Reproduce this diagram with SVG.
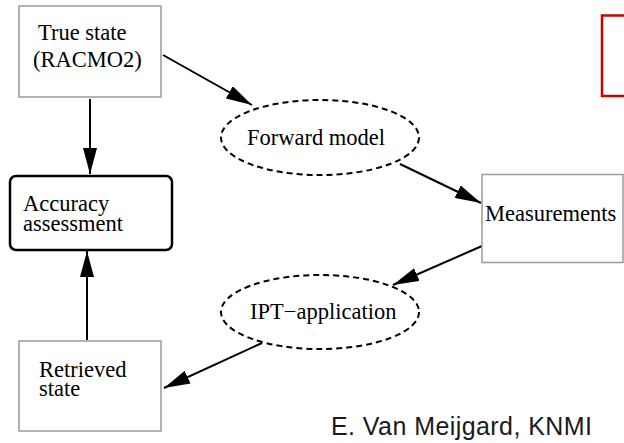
<svg xmlns="http://www.w3.org/2000/svg" width="624" height="443" viewBox="0 0 624 443">
  <style>
    .box { fill: #ffffff; stroke: #9a9a9a; stroke-width: 1.5; }
    .strong { fill: #ffffff; stroke: #000000; stroke-width: 2.5; }
    .proc { fill: #ffffff; stroke: #000000; stroke-width: 2; stroke-dasharray: 6 4; }
    .label { font-family: "Liberation Serif", "Times New Roman", serif; font-size: 22.5px; fill: #000000; }
    .edge { fill: none; stroke: #000000; stroke-width: 2; marker-end: url(#head); }
    .credit { font-family: "Liberation Sans", Arial, sans-serif; font-size: 25px; fill: #1a1a1a; }
  </style>
  <defs>
    <marker id="head" markerUnits="userSpaceOnUse" markerWidth="26" markerHeight="14" refX="26" refY="7" orient="auto">
      <path d="M0,0 L26,7 L0,14 z" fill="#000000"/>
    </marker>
  </defs>

  <rect x="0" y="0" width="624" height="443" fill="#ffffff"/>

  <!-- red frame at the top right -->
  <rect x="602" y="15.5" width="30" height="80.5" fill="none" stroke="#cc0000" stroke-width="2.5"/>

  <g id="connectors">
    <path class="edge" d="M163,55 L252,105"/>
    <path class="edge" d="M90,99 L90,174"/>
    <path class="edge" d="M400,164 L481,203"/>
    <path class="edge" d="M482,246 L393,285"/>
    <path class="edge" d="M262,343 L164,388"/>
    <path class="edge" d="M87,340 L87,251"/>
  </g>

  <g id="true-state">
    <rect class="box" x="19" y="6" width="142" height="91"/>
    <text class="label" x="38" y="40">True state</text>
    <text class="label" x="33" y="67">(RACMO2)</text>
  </g>

  <g id="accuracy-assessment">
    <rect class="strong" x="10" y="176" width="162" height="74" rx="6"/>
    <text class="label" x="23" y="211">Accuracy</text>
    <text class="label" x="23" y="231">assessment</text>
  </g>

  <g id="forward-model">
    <ellipse class="proc" cx="320" cy="137.5" rx="99" ry="37.5"/>
    <text class="label" x="247" y="145">Forward model</text>
  </g>

  <g id="measurements">
    <rect class="box" x="482" y="174.5" width="141" height="88"/>
    <text class="label" x="485" y="221">Measurements</text>
  </g>

  <g id="ipt-application">
    <ellipse class="proc" cx="320" cy="312" rx="99" ry="37"/>
    <text class="label" x="250" y="319">IPT−application</text>
  </g>

  <g id="retrieved-state">
    <rect class="box" x="19" y="341" width="142" height="90"/>
    <text class="label" x="39" y="377">Retrieved</text>
    <text class="label" x="39" y="396">state</text>
  </g>

  <text class="credit" x="331" y="435" textLength="261" lengthAdjust="spacing">E. Van Meijgard, KNMI</text>
</svg>
